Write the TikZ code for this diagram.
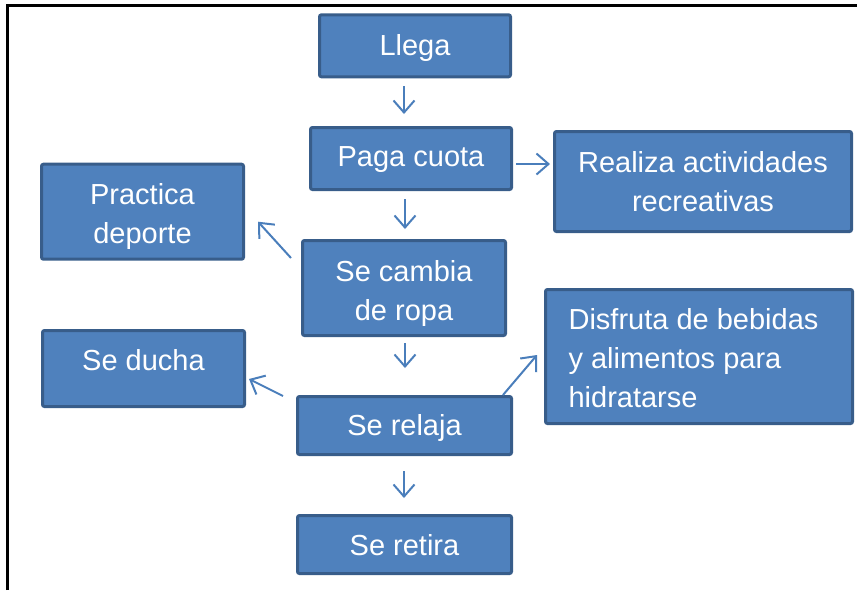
\documentclass[tikz,border=0pt]{standalone}
\usepackage{fontspec}
\setmainfont{Liberation Sans}
\usetikzlibrary{arrows.meta,calc}
\definecolor{boxfill}{HTML}{4F81BD}
\definecolor{boxline}{HTML}{385D8A}
\definecolor{arr}{HTML}{4A7EBB}
\newcommand\boxtxt[3]{\raisebox{#1pt}[0pt][0pt]{\begin{tabular}[t]{@{}#2@{}}#3\end{tabular}}}
\begin{document}
\begin{tikzpicture}[x=1pt,y=-1pt,
 box/.style={draw=boxline,fill=boxfill,line width=3pt,rounded corners=2pt,text=white,
   font=\fontsize{29}{39}\selectfont,inner sep=0pt},
 flow/.style={draw=arr,line width=2pt,-{Straight Barb[length=12pt,width=21pt]}}]
\useasboundingbox (0,0) rectangle (857,590);
\draw[line width=3pt] (7,590) -- (7,5) -- (857,5);

\node[box,minimum width=191,minimum height=62] (llega) at (415,45.8) {\boxtxt{-9.2}{c}{Llega}};
\node[box,minimum width=201,minimum height=62] (paga) at (411,158.5) {\boxtxt{-8.2}{c}{Paga cuota}};
\node[box,minimum width=297,minimum height=100] (realiza) at (703,181.5) {\boxtxt{8.8}{c}{Realiza actividades\\recreativas}};
\node[box,minimum width=202,minimum height=95] (practica) at (142.5,211.7) {\boxtxt{7.7}{c}{Practica\\deporte}};
\node[box,minimum width=203,minimum height=95] (cambia) at (404,288) {\boxtxt{7}{c}{Se cambia\\de ropa}};
\node[box,minimum width=202,minimum height=76] (ducha) at (143.5,368.5) {\boxtxt{-1.5}{c}{Se ducha}};
\node[box,minimum width=307,minimum height=134] (disfruta) at (699,356.5) {\hspace*{-11pt}\boxtxt{27.2}{l}{Disfruta de bebidas\\y alimentos para\\hidratarse}};
\node[box,minimum width=214,minimum height=58] (relaja) at (404.5,425.5) {\boxtxt{-9.5}{c}{Se relaja}};
\node[box,minimum width=214,minimum height=58] (retira) at (404.5,544.5) {\boxtxt{-10.5}{c}{Se retira}};

\draw[flow] ($(llega.south)+(-11,8)$) -- ($(paga.north)+(-7,-12)$);
\draw[flow] ($(paga.south)+(-6,8)$) -- ($(cambia.north)+(1,-10)$);
\draw[flow] ($(paga.east)+(3,5.5)$) -- ($(realiza.west)+(-3,-17.5)$);
\draw[flow] ($(cambia.north west)+(-10,19)$) -- ($(practica.north east)+(13,59)$);
\draw[flow] ($(cambia.south)+(1,6)$) -- ($(relaja.north)+(0.5,-27)$);
\draw[flow] ($(relaja.north west)+(-13,1)$) -- ($(ducha.north east)+(3,50)$);
\draw[flow] ($(relaja.north east)+(-10,0)$) -- ($(disfruta.north west)+(-7,67)$);
\draw[flow] ($(relaja.south)+(-0.5,15)$) -- ($(retira.north)+(-0.5,-16)$);
\end{tikzpicture}
\end{document}
